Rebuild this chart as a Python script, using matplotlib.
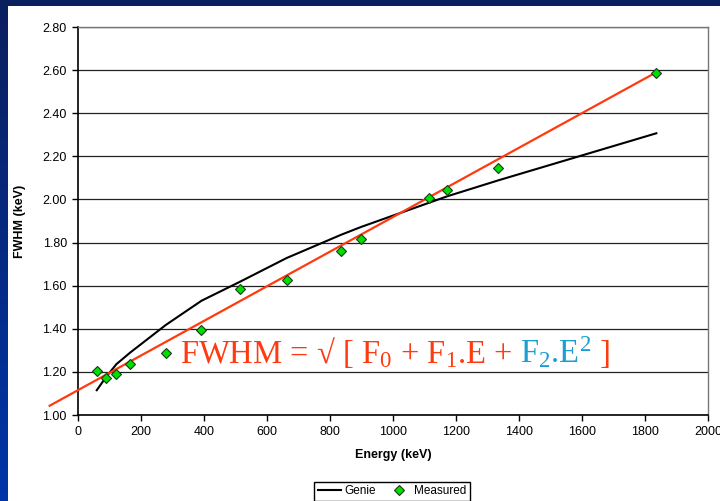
import matplotlib
matplotlib.use("Agg")
import matplotlib.pyplot as plt
import numpy as np

# gamma lines (keV) and resolution values
energy = [59.5, 88, 122, 166, 279, 392, 514, 662, 835, 898, 1115, 1173, 1333, 1836]
measured = [1.204, 1.173, 1.192, 1.238, 1.289, 1.396, 1.584, 1.626, 1.760, 1.818,
            2.006, 2.045, 2.147, 2.588]
genie = [1.115, 1.174, 1.236, 1.290, 1.418, 1.530, 1.618, 1.728, 1.836, 1.872,
         1.985, 2.015, 2.088, 2.307]
fit_energy = [-90, 1836]
fit_fwhm = [1.043, 2.590]

xticks = [0, 200, 400, 600, 800, 1000, 1200, 1400, 1600, 1800, 2000]
yticks = [1.00, 1.20, 1.40, 1.60, 1.80, 2.00, 2.20, 2.40, 2.60, 2.80]

plt.rcParams['font.family'] = ['Liberation Sans', 'DejaVu Sans']
plt.rcParams['mathtext.fontset'] = 'custom'
plt.rcParams['mathtext.rm'] = 'Liberation Serif'
plt.rcParams['mathtext.it'] = 'Liberation Serif'

fig = plt.figure(figsize=(7.2, 5.01), dpi=100, facecolor='white')

# blue slide border (left strip gradient + top band)
bg = fig.add_axes([0, 0, 8 / 720, 1], zorder=-5)
grad = np.linspace(0, 1, 200).reshape(-1, 1)
cmap = matplotlib.colors.LinearSegmentedColormap.from_list('b', ['#0a1f5e', '#0035a8'])
bg.imshow(grad, aspect='auto', cmap=cmap, extent=[0, 1, 0, 1], origin='upper')
bg.axis('off')
top = fig.add_axes([0, 1 - 6 / 501, 1, 6 / 501], zorder=-5)
top.set_facecolor('#0a1f5e')
top.set_xticks([])
top.set_yticks([])
for s in top.spines.values():
    s.set_visible(False)

ax = fig.add_axes([78 / 720, 1 - 415 / 501, 630 / 720, 388 / 501])

line_genie, = ax.plot(energy, genie, color='black', lw=1.5, label='Genie', zorder=3)
ax.plot(fit_energy, fit_fwhm, color='#ff3a10', lw=1.6, clip_on=False, zorder=4)
pts, = ax.plot(energy, measured, ls='none', marker='D', ms=5, mfc='#00e000',
               mec='#1a3a1a', mew=0.8, label='Measured', zorder=5)

ax.set_xlim(0, 2000)
ax.set_ylim(1.0, 2.8)
ax.set_xticks(xticks)
ax.set_yticks(yticks)
ax.set_yticklabels(['%.2f' % v for v in yticks])
ax.tick_params(labelsize=9, length=4, width=1, direction='out', pad=4)
ax.grid(axis='y', color='#222222', lw=0.9)
ax.set_axisbelow(True)
for side in ['left', 'bottom']:
    ax.spines[side].set_color('black')
    ax.spines[side].set_linewidth(1.2)
for side in ['right', 'top']:
    ax.spines[side].set_color('#777777')
    ax.spines[side].set_linewidth(1.0)

ax.set_xlabel('Energy (keV)', fontsize=9, fontweight='bold', labelpad=8)
ax.set_ylabel('FWHM (keV)', fontsize=9, fontweight='bold', labelpad=12)

# formula text, red part then blue part then closing bracket
red = '#ff3a10'
blue = '#1a9fd0'
fs = 23.5
base_y = 1.240
t1 = ax.text(324, base_y, r'FWHM = √ [ F$_0$ + F$_1$.E +', fontsize=fs, color=red,
             family='Liberation Serif', va='baseline', ha='left', zorder=6)
t2 = ax.annotate(r' F$_2$.E$^2$', xy=(1, base_y), xycoords=(t1, 'data'), fontsize=fs,
                 color=blue, family='Liberation Serif', va='baseline', ha='left', zorder=6)
t3 = ax.annotate(r' ]', xy=(1, base_y), xycoords=(t2, 'data'), fontsize=fs,
                 color=red, family='Liberation Serif', va='baseline', ha='left', zorder=6)

leg = fig.legend(handles=[line_genie, pts], loc='upper center', ncol=2,
                 bbox_to_anchor=(392 / 720, 1 - 476 / 501), fontsize=8.5,
                 frameon=True, fancybox=False, edgecolor='black', framealpha=1,
                 handlelength=2.0, columnspacing=0.9, handletextpad=0.3,
                 borderpad=0.3)
leg.get_frame().set_linewidth(1.0)

fig.savefig('out.png', dpi=100, facecolor='white')
